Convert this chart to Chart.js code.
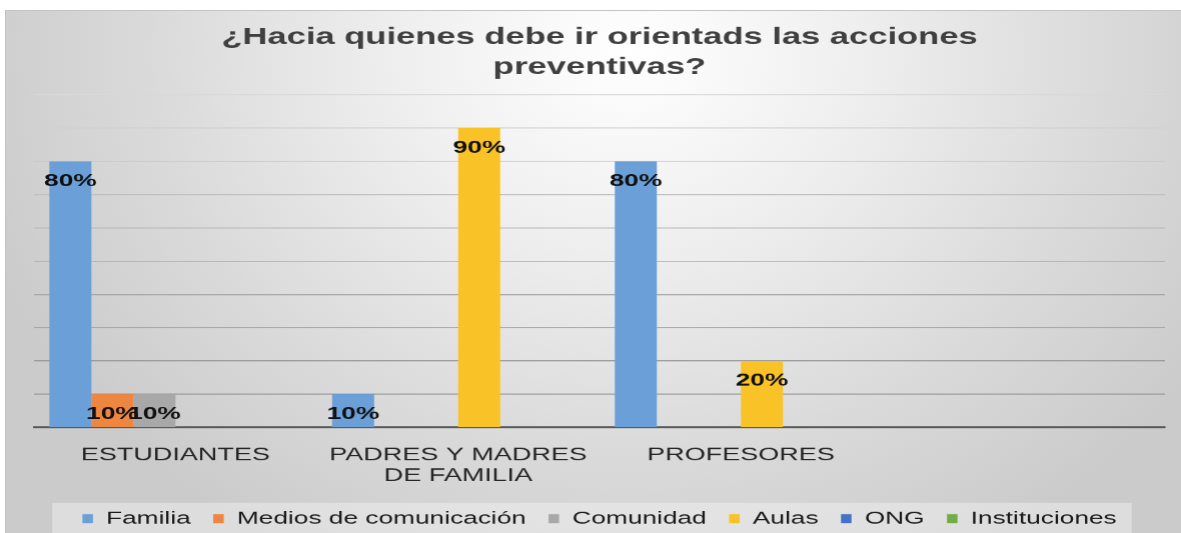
<!DOCTYPE html>
<html>
<head>
<meta charset="utf-8">
<script src="https://cdn.jsdelivr.net/npm/chart.js"></script>
<style>
  html, body { margin: 0; padding: 0; background: #fff; }
  body { width: 1181px; height: 533px; position: relative; overflow: hidden; }
  .frame {
    position: absolute; left: 5px; top: 10px; right: 0; bottom: 0;
    border-top: 1px solid #c4c4c4; border-left: 1px solid #c4c4c4;
    background: radial-gradient(ellipse 58% 110% at 53% 8%, #ffffff 0%, #eeeeee 35%, #dadada 70%, #cbcbcb 100%);
  }
  #myChart { position: absolute; left: 0; top: 0; }
</style>
</head>
<body>
<div class="frame"></div>
<canvas id="myChart" width="787" height="533" style="width:1181px;height:533px"></canvas>
<script>
// values (percent)
const categories = ['ESTUDIANTES', ['PADRES Y MADRES', 'DE FAMILIA'], 'PROFESORES', ''];
const familia = [80, 10, 80, null];
const medios = [10, null, null, null];
const comunidad = [10, null, null, null];
const aulas = [null, 90, 20, null];
const ong = [null, null, null, null];
const instituciones = [null, null, null, null];

const seriesNames = ['Familia', 'Medios de comunicación', 'Comunidad', 'Aulas', 'ONG', 'Instituciones'];
const seriesColors = ['#6a9fd8', '#ee8640', '#a8a8a8', '#f9c226', '#4472c4', '#70ad47'];
const seriesData = [familia, medios, comunidad, aulas, ong, instituciones];

const FONT = '"Liberation Sans", Arial, sans-serif';

// the original picture is stretched sideways, so the chart is laid out
// 787px wide and the canvas is shown 1.5x wider (devicePixelRatio + inline css)

// draws "80%" etc just inside the top of each bar
const barLabels = {
  id: 'barLabels',
  afterDatasetsDraw(chart) {
    const ctx = chart.ctx;
    ctx.save();
    ctx.font = 'bold 17.5px ' + FONT;
    ctx.fillStyle = '#111';
    ctx.textAlign = 'center';
    ctx.textBaseline = 'middle';
    chart.data.datasets.forEach((ds, i) => {
      const meta = chart.getDatasetMeta(i);
      meta.data.forEach((bar, j) => {
        const v = ds.data[j];
        if (v == null) return;
        ctx.fillText(v + '%', bar.x, bar.y + 20);
      });
    });
    ctx.restore();
  }
};

// light box behind the legend
const legendBox = {
  id: 'legendBox',
  beforeDraw(chart) {
    const boxes = chart.legend.legendHitBoxes;
    if (!boxes || !boxes.length) return;
    let x1 = Infinity, x2 = -Infinity, y1 = Infinity;
    boxes.forEach(b => {
      x1 = Math.min(x1, b.left);
      x2 = Math.max(x2, b.left + b.width);
      y1 = Math.min(y1, b.top);
    });
    const ctx = chart.ctx;
    ctx.save();
    ctx.fillStyle = 'rgba(255,255,255,0.35)';
    ctx.fillRect(x1 - 20, y1 - 7, x2 - x1 + 30, chart.height - y1 + 7);
    ctx.restore();
  }
};

const ctx = document.getElementById('myChart').getContext('2d');
const myChart = new Chart(ctx, {
  type: 'bar',
  data: {
    labels: categories,
    datasets: seriesNames.map((name, i) => ({
      label: name,
      data: seriesData[i],
      backgroundColor: seriesColors[i],
      borderWidth: 0
    }))
  },
  options: {
    responsive: false,
    animation: false,
    devicePixelRatio: 1.5,
    layout: { padding: { left: 22.7, right: 11, top: 0, bottom: -4 } },
    datasets: {
      bar: { categoryPercentage: 0.892, barPercentage: 1 }
    },
    scales: {
      x: {
        grid: { display: true, color: 'rgba(0,0,0,0)', drawTicks: false },
        border: { display: true, color: '#595959', width: 2 },
        ticks: {
          color: '#262626',
          padding: 18,
          maxRotation: 0,
          autoSkip: false,
          font: { family: FONT, size: 18, lineHeight: 1.12 }
        },
        afterFit(scale) {
          scale.height -= 9;
        }
      },
      y: {
        min: 0,
        max: 100,
        ticks: { display: false, stepSize: 10 },
        border: { display: false },
        grid: {
          drawTicks: false,
          lineWidth: 1,
          color: (c) => {
            const g = Math.round(140 + (c.index - 1) * 8.5);
            return 'rgb(' + g + ',' + g + ',' + g + ')';
          }
        }
      }
    },
    plugins: {
      title: {
        display: true,
        text: ['¿Hacia quienes debe ir orientads las acciones', 'preventivas?'],
        color: '#404040',
        font: { family: FONT, size: 23, weight: 'bold', lineHeight: 1.3 },
        padding: { top: 23, bottom: 12 }
      },
      legend: {
        position: 'bottom',
        labels: {
          color: '#1a1a1a',
          boxWidth: 7,
          boxHeight: 9,
          padding: 15,
          font: { family: FONT, size: 17.5 }
        }
      },
      tooltip: { enabled: false }
    }
  },
  plugins: [legendBox, barLabels]
});
</script>
</body>
</html>
